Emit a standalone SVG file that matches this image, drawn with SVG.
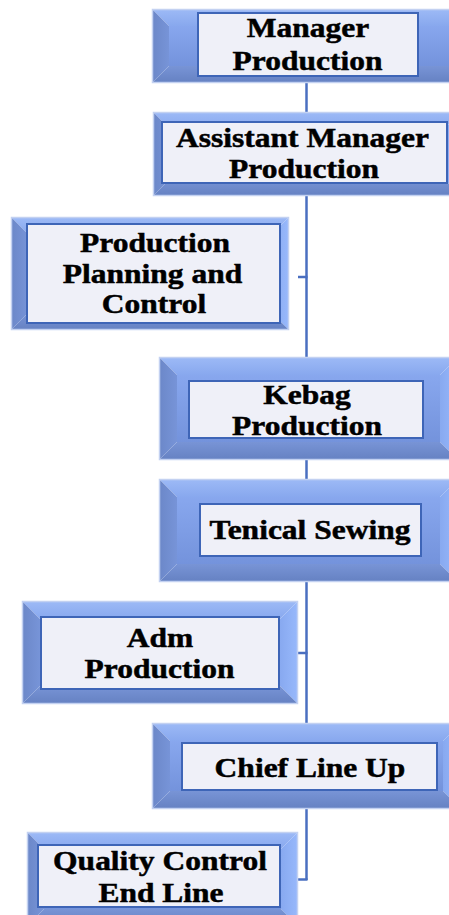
<svg xmlns="http://www.w3.org/2000/svg" width="449" height="915" viewBox="0 0 449 915">
  <defs>
    <linearGradient id="gTop" x1="0" y1="0" x2="0" y2="1">
      <stop offset="0" stop-color="#9cb9f6"/>
      <stop offset="1" stop-color="#88a8ee"/>
    </linearGradient>
    <linearGradient id="gLeft" x1="0" y1="0" x2="1" y2="0">
      <stop offset="0" stop-color="#6c88c9"/>
      <stop offset="1" stop-color="#7794d8"/>
    </linearGradient>
    <linearGradient id="gRight" x1="0" y1="0" x2="1" y2="0">
      <stop offset="0" stop-color="#88a9f0"/>
      <stop offset="1" stop-color="#97b8fb"/>
    </linearGradient>
    <linearGradient id="gBottom" x1="0" y1="0" x2="0" y2="1">
      <stop offset="0" stop-color="#7894d6"/>
      <stop offset="1" stop-color="#6682c3"/>
    </linearGradient>
    <linearGradient id="gFace" x1="0" y1="0" x2="0" y2="1">
      <stop offset="0" stop-color="#88a7ee"/>
      <stop offset="1" stop-color="#7493dc"/>
    </linearGradient>
  </defs>
  <style>
    .rim { fill: none; stroke: #c3d1f1; stroke-width: 1.5; }
    .top { fill: url(#gTop); }
    .left { fill: url(#gLeft); }
    .right { fill: url(#gRight); }
    .bottom { fill: url(#gBottom); }
    .face { fill: url(#gFace); }
    .card { fill: #eff0f8; stroke: #3e65b7; stroke-width: 2; }
    .lbl { font-family: "Liberation Serif", "Times New Roman", serif; font-weight: bold; font-size: 28px; fill: #000; stroke: #000; stroke-width: 0.5; text-anchor: middle; }
    .link { fill: none; stroke: #4a6fc0; stroke-width: 2.5; }
  </style>
  <rect width="449" height="915" fill="#ffffff"/>

  <!-- connectors: trunk and side stubs -->
  <g id="connectors">
    <line class="link" x1="306.5" y1="82" x2="306.5" y2="880"/>
    <line class="link" x1="298" y1="277" x2="307.5" y2="277"/>
    <line class="link" x1="298" y1="653" x2="307.5" y2="653"/>
    <line class="link" x1="298" y1="879.5" x2="307.5" y2="879.5"/>
  </g>

  <!-- Manager Production: outer 153,10 w320 h72 inset 16 -->
  <g id="manager-production">
    <polygon class="top" points="153,10 473,10 457,26 169,26"/>
    <polygon class="left" points="153,10 169,26 169,66 153,82"/>
    <polygon class="right" points="473,10 473,82 457,66 457,26"/>
    <polygon class="bottom" points="153,82 169,66 457,66 473,82"/>
    <rect class="face" x="169" y="26" width="288" height="40"/>
    <rect class="rim" x="152.5" y="9.5" width="321" height="73"/>
    <rect class="card" x="198" y="13" width="220" height="63"/>
    <text class="lbl" transform="translate(308 36.5) scale(1.125 1)">Manager</text>
    <text class="lbl" transform="translate(307.5 70) scale(1.125 1)">Production</text>
  </g>

  <!-- Assistant Manager Production -->
  <g id="assistant-manager-production">
    <polygon class="top" points="154,113 460,113 444,129 170,129"/>
    <polygon class="left" points="154,113 170,129 170,179 154,195"/>
    <polygon class="right" points="460,113 460,195 444,179 444,129"/>
    <polygon class="bottom" points="154,195 170,179 444,179 460,195"/>
    <rect class="face" x="170" y="129" width="274" height="50"/>
    <rect class="rim" x="153.5" y="112.5" width="307" height="83"/>
    <rect class="card" x="162" y="122" width="285" height="61"/>
    <text class="lbl" transform="translate(302.5 146.5) scale(1.125 1)">Assistant Manager</text>
    <text class="lbl" transform="translate(304 178) scale(1.125 1)">Production</text>
  </g>

  <!-- Production Planning and Control -->
  <g id="production-planning-control">
    <polygon class="top" points="12,218 288,218 272,234 28,234"/>
    <polygon class="left" points="12,218 28,234 28,313 12,329"/>
    <polygon class="right" points="288,218 288,329 272,313 272,234"/>
    <polygon class="bottom" points="12,329 28,313 272,313 288,329"/>
    <rect class="face" x="28" y="234" width="244" height="79"/>
    <rect class="rim" x="11.5" y="217.5" width="277" height="112"/>
    <rect class="card" x="27" y="224" width="253" height="99"/>
    <text class="lbl" transform="translate(155 251.5) scale(1.125 1)">Production</text>
    <text class="lbl" transform="translate(152.5 283) scale(1.125 1)">Planning and</text>
    <text class="lbl" transform="translate(154 313) scale(1.125 1)">Control</text>
  </g>

  <!-- Kebag Production -->
  <g id="kebag-production">
    <polygon class="top" points="160,358 457,358 440,375 177,375"/>
    <polygon class="left" points="160,358 177,375 177,442 160,459"/>
    <polygon class="right" points="457,358 457,459 440,442 440,375"/>
    <polygon class="bottom" points="160,459 177,442 440,442 457,459"/>
    <rect class="face" x="177" y="375" width="263" height="67"/>
    <rect class="rim" x="159.5" y="357.5" width="298" height="102"/>
    <rect class="card" x="189" y="381" width="234" height="57"/>
    <text class="lbl" transform="translate(307 403.5) scale(1.125 1)">Kebag</text>
    <text class="lbl" transform="translate(307 435) scale(1.125 1)">Production</text>
  </g>

  <!-- Tenical Sewing -->
  <g id="tenical-sewing">
    <polygon class="top" points="160,480 457,480 440,497 177,497"/>
    <polygon class="left" points="160,480 177,497 177,564 160,581"/>
    <polygon class="right" points="457,480 457,581 440,564 440,497"/>
    <polygon class="bottom" points="160,581 177,564 440,564 457,581"/>
    <rect class="face" x="177" y="497" width="263" height="67"/>
    <rect class="rim" x="159.5" y="479.5" width="298" height="102"/>
    <rect class="card" x="200" y="504" width="221" height="52"/>
    <text class="lbl" transform="translate(310 538.5) scale(1.125 1)">Tenical Sewing</text>
  </g>

  <!-- Adm Production -->
  <g id="adm-production">
    <polygon class="top" points="23,602 297,602 280,619 40,619"/>
    <polygon class="left" points="23,602 40,619 40,686 23,703"/>
    <polygon class="right" points="297,602 297,703 280,686 280,619"/>
    <polygon class="bottom" points="23,703 40,686 280,686 297,703"/>
    <rect class="face" x="40" y="619" width="240" height="67"/>
    <rect class="rim" x="22.5" y="601.5" width="275" height="102"/>
    <rect class="card" x="41" y="617" width="238" height="72"/>
    <text class="lbl" transform="translate(160 646.5) scale(1.125 1)">Adm</text>
    <text class="lbl" transform="translate(159.5 678) scale(1.125 1)">Production</text>
  </g>

  <!-- Chief Line Up -->
  <g id="chief-line-up">
    <polygon class="top" points="153,724 460,724 443,741 170,741"/>
    <polygon class="left" points="153,724 170,741 170,791 153,808"/>
    <polygon class="right" points="460,724 460,808 443,791 443,741"/>
    <polygon class="bottom" points="153,808 170,791 443,791 460,808"/>
    <rect class="face" x="170" y="741" width="273" height="50"/>
    <rect class="rim" x="152.5" y="723.5" width="308" height="85"/>
    <rect class="card" x="182" y="743" width="255" height="47"/>
    <text class="lbl" transform="translate(310 776.5) scale(1.125 1)">Chief Line Up</text>
  </g>

  <!-- Quality Control End Line -->
  <g id="quality-control-end-line">
    <polygon class="top" points="28,833 297,833 281,849 44,849"/>
    <polygon class="left" points="28,833 44,849 44,909 28,925"/>
    <polygon class="right" points="297,833 297,925 281,909 281,849"/>
    <polygon class="bottom" points="28,925 44,909 281,909 297,925"/>
    <rect class="face" x="44" y="849" width="237" height="60"/>
    <rect class="rim" x="27.5" y="832.5" width="270" height="93"/>
    <rect class="card" x="38" y="845" width="242" height="62"/>
    <text class="lbl" transform="translate(160 870) scale(1.125 1)">Quality Control</text>
    <text class="lbl" transform="translate(161 901.5) scale(1.125 1)">End Line</text>
  </g>
</svg>
